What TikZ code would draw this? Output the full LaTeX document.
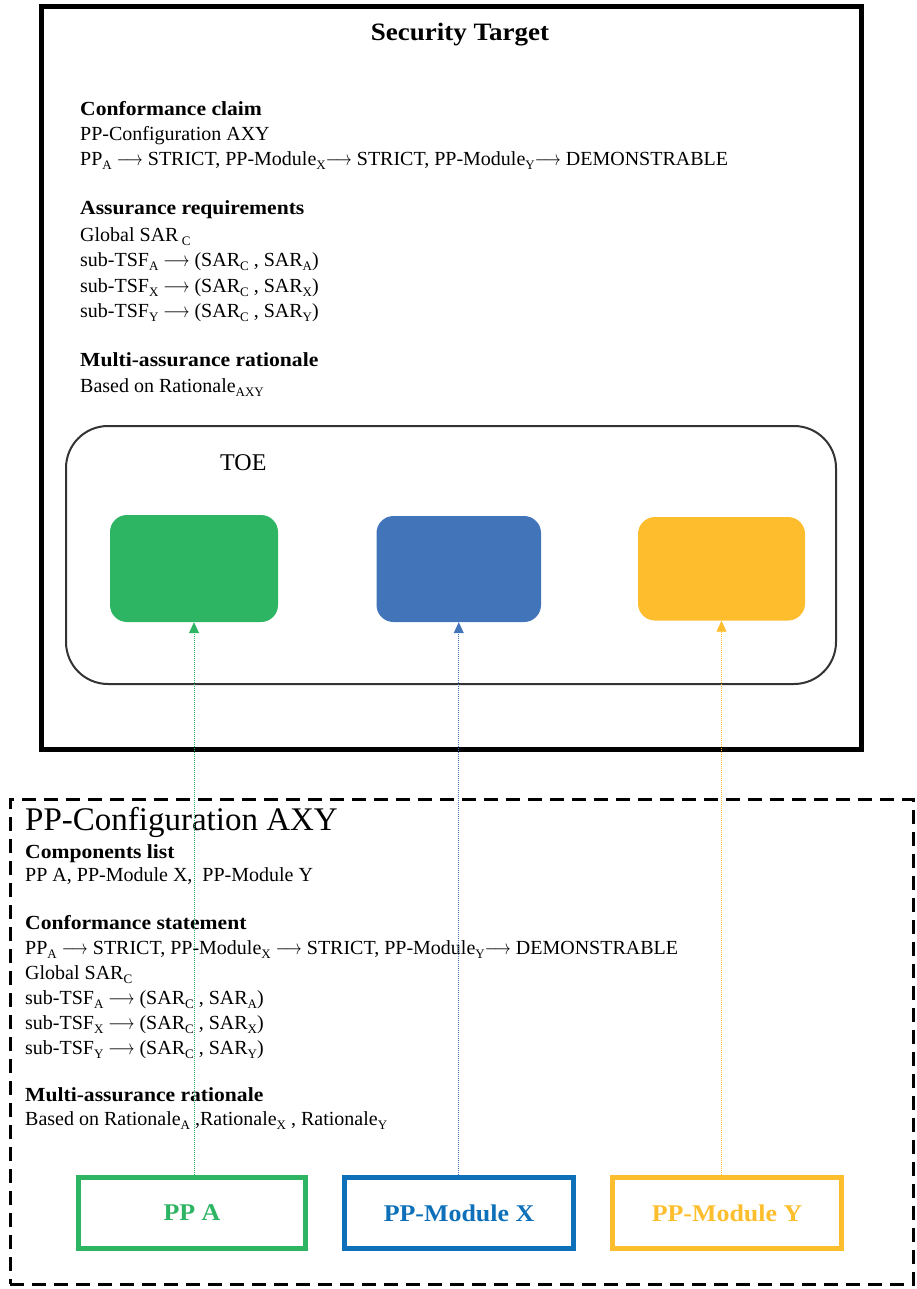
\documentclass[tikz,border=0pt]{standalone}
\usepackage{graphicx}
\usepackage{fontspec}
\setmainfont{Liberation Serif}[BoldFeatures={FakeStretch=1.08}]
\usetikzlibrary{arrows.meta}
\definecolor{cgreen}{HTML}{2EB563}
\definecolor{cblue}{HTML}{4274BA}
\definecolor{cyellow}{HTML}{FDBD2C}
\definecolor{bgreen}{HTML}{2EB563}
\definecolor{bblue}{HTML}{0E70B8}
\definecolor{byellow}{HTML}{FDBE2D}
\definecolor{toegray}{HTML}{333333}
\newcommand\sbs[1]{\raisebox{-0.2em}{\fontsize{13}{13}\selectfont #1}}
\newcommand\arr{\scalebox{0.78}[1]{$\longrightarrow$}}
\tikzset{
  txt/.style={anchor=base west, inner sep=0pt, font=\fontsize{20}{25}\selectfont},
  btxt/.style={anchor=base west, inner sep=0pt, font=\fontsize{20}{25}\selectfont\bfseries},
  fillbox/.style={fill=#1, draw=none, rounded corners=17, inner sep=0pt},
  ppbox/.style={draw=#1, line width=5, text=#1, inner sep=0pt, font=\fontsize{24}{28}\selectfont\bfseries},
  link/.style={draw=#1, line width=0.8, dash pattern=on 1 off 1, -{Triangle[length=11,width=10,fill=#1]}}
}
\begin{document}
\begin{tikzpicture}[x=1pt, y=-1pt]
\useasboundingbox (0,0) rectangle (917,1289);
% Security Target frame
\node[draw, line width=5, minimum width=820, minimum height=742.5, inner sep=0pt] (st) at (451.5,378.25) {};
\node[anchor=base, inner sep=0pt, font=\fontsize{25}{30}\selectfont\bfseries] (sttitle) at (460,40.7) {Security Target};
% ST texts
\node[btxt] (cc) at (80,115.7) {Conformance claim};
\node[txt] (cc1) at (80,140.7) {PP-Configuration AXY};
\node[txt] (cc2) at (80,165.7) {PP\sbs{A} \arr\ STRICT, PP-Module\sbs{X}\arr\ STRICT, PP-Module\sbs{Y}\arr\ DEMONSTRABLE};
\node[btxt] (ar) at (80,215) {Assurance requirements};
\node[txt] (ar1) at (80,241) {Global SAR\,\sbs{C}};
\node[txt] (ar2) at (80,266.7) {sub-TSF\sbs{A} \arr\ (SAR\sbs{C} , SAR\sbs{A})};
\node[txt] (ar3) at (80,292) {sub-TSF\sbs{X} \arr\ (SAR\sbs{C} , SAR\sbs{X})};
\node[txt] (ar4) at (80,317) {sub-TSF\sbs{Y} \arr\ (SAR\sbs{C} , SAR\sbs{Y})};
\node[btxt] (mr) at (80,366.7) {Multi-assurance rationale};
\node[txt] (mr1) at (80,392) {Based on Rationale\sbs{AXY}};
% TOE
\node[draw=toegray, line width=2, rounded corners=42, minimum width=770, minimum height=258, inner sep=0pt] (toe) at (451,555) {};
\node[anchor=base west, inner sep=0pt, font=\fontsize{24}{28}\selectfont] (toelbl) at (220,470) {TOE};
\node[fillbox=cgreen, minimum width=168, minimum height=107] (ga) at (194,568.5) {};
\node[fillbox=cblue, minimum width=164.5, minimum height=106] (gx) at (458.75,569) {};
\node[fillbox=cyellow, minimum width=167, minimum height=103.5] (gy) at (721.5,568.75) {};
% PP-Configuration frame
\node[draw, line width=3, dash pattern=on 14 off 8, minimum width=903.5, minimum height=485, inner sep=0pt] (ppc) at (461.75,1041.5) {};
\node[anchor=base west, inner sep=0pt, font=\fontsize{33}{38}\selectfont] (ppct) at (25,830.7) {PP-Configuration AXY};
\node[btxt] (cl) at (25,858.3) {Components list};
\node[txt] (cl1) at (25,881.7) {PP A, PP-Module X,\ \ PP-Module Y};
\node[btxt] (cs) at (25,929.3) {Conformance statement};
\node[txt] (cs1) at (25,954) {PP\sbs{A} \arr\ STRICT, PP-Module\sbs{X} \arr\ STRICT, PP-Module\sbs{Y}\arr\ DEMONSTRABLE};
\node[txt] (cs2) at (25,979) {Global SAR\sbs{C}};
\node[txt] (cs3) at (25,1004) {sub-TSF\sbs{A} \arr\ (SAR\sbs{C} , SAR\sbs{A})};
\node[txt] (cs4) at (25,1029.3) {sub-TSF\sbs{X} \arr\ (SAR\sbs{C} , SAR\sbs{X})};
\node[txt] (cs5) at (25,1054) {sub-TSF\sbs{Y} \arr\ (SAR\sbs{C} , SAR\sbs{Y})};
\node[btxt] (pm) at (25,1101.7) {Multi-assurance rationale};
\node[txt] (pm1) at (25,1125.7) {Based on Rationale\sbs{A} ,Rationale\sbs{X} , Rationale\sbs{Y}};
% component boxes
\node[ppbox=bgreen, minimum width=227, minimum height=71] (ppa) at (192,1213) {PP A};
\node[ppbox=bblue, minimum width=229, minimum height=71] (ppx) at (459,1213) {PP-Module X};
\node[ppbox=byellow, minimum width=229, minimum height=71] (ppy) at (727,1213) {PP-Module Y};
% links
\draw[link=cgreen] (ga.south |- ppa.north) -- (ga.south);
\draw[link=cblue] (gx.south |- ppx.north) -- (gx.south);
\draw[link=cyellow] (gy.south |- ppy.north) -- (gy.south);
\end{tikzpicture}
\end{document}
